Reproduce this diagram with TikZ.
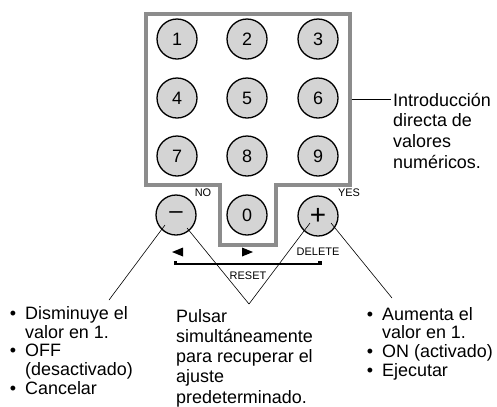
\documentclass[tikz,border=0pt]{standalone}
\usepackage{fontspec}
\setmainfont{Liberation Sans}
\definecolor{keygray}{gray}{0.83}
\definecolor{framegray}{gray}{0.55}
\begin{document}
\begin{tikzpicture}[x=1bp,y=-1bp,
  keybtn/.style={circle,draw=black,line width=1.3bp,fill=keygray,minimum size=40bp,inner sep=0pt,font=\fontsize{18}{18}\selectfont},
  smalllab/.style={font=\fontsize{11}{11}\selectfont,inner sep=0pt},
  bodytext/.style={align=left,inner sep=0pt,anchor=base west},
  leader/.style={line width=0.6bp},
  frame/.style={draw=framegray,line width=3.5bp},
  tri/.style={fill=black}]
\useasboundingbox (0,0) rectangle (497,406);
% frame
\draw[frame] (146,14) -- (350,14) -- (350,185) -- (276,185) -- (276,245) -- (220,245) -- (220,185) -- (146,185) -- cycle;
% keys
\node[keybtn] (k1) at (177,39) {1};
\node[keybtn] (k2) at (247,39) {2};
\node[keybtn] (k3) at (318,39) {3};
\node[keybtn] (k4) at (177,98) {4};
\node[keybtn] (k5) at (247,98) {5};
\node[keybtn] (k6) at (318,98) {6};
\node[keybtn] (k7) at (177,156) {7};
\node[keybtn] (k8) at (247,156) {8};
\node[keybtn] (k9) at (318,156) {9};
\node[keybtn] (k0) at (247,215) {0};
\node[keybtn,font=\fontsize{24}{24}\selectfont] (minus) at (176,215) {\raisebox{-0.12em}{–}};
\node[keybtn,font=\fontsize{28}{28}\selectfont] (plus) at (318,216) {+};
% small labels
\node[smalllab] (no) at (203,193) {NO};
\node[smalllab] (yes) at (349,193) {YES};
\node[smalllab] (del) at (318,252) {DELETE};
\node[smalllab] (reset) at (248,276) {RESET};
% triangles
\fill[tri] (172,252) -- (183,247.5) -- (183,256.5) -- cycle;
\fill[tri] (253,252) -- (242,247.5) -- (242,256.5) -- cycle;
% reset bracket
\coordinate (bl) at (175,264);
\coordinate (br) at (320,264);
\draw[line width=1.3bp] (bl) -- (br);
\fill (bl) ++(-1.5,0.6) rectangle ++(3.5,-4);
\fill (br) ++(-2,0.6) rectangle ++(3.5,-4);
% right annotation (anchor = baseline of last line)
\coordinate (introL) at (391,99);
\draw[leader,line width=0.9bp] (351.7,99) -- (introL);
\node[bodytext,font=\fontsize{18}{20.7}\selectfont] (intro) at (393,168) {Introducción\\directa de\\valores\\numéricos.};
% bottom texts
\node[bodytext,font=\fontsize{18}{18.6}\selectfont] (left) at (25,394) {\llap{•\hspace{9bp}}Disminuye el\\valor en 1.\\\llap{•\hspace{9bp}}OFF\\(desactivado)\\\llap{•\hspace{9bp}}Cancelar};
\node[bodytext,font=\fontsize{18}{20.3}\selectfont] (mid) at (176,403) {Pulsar\\simultáneamente\\para recuperar el\\ajuste\\predeterminado.};
\node[bodytext,font=\fontsize{18}{18.6}\selectfont] (right) at (382,376) {\llap{•\hspace{9bp}}Aumenta el\\valor en 1.\\\llap{•\hspace{9bp}}ON (activado)\\\llap{•\hspace{9bp}}Ejecutar};
% leader lines
\coordinate (lend) at (109,300);
\coordinate (apex) at (249,304);
\coordinate (rend) at (392,298);
\draw[leader] ([shift={(-11,10)}]minus.center) -- (lend);
\draw[leader] ([shift={(11,13)}]minus.center) -- (apex);
\draw[leader] ([shift={(-8,7)}]plus.center) -- (apex);
\draw[leader] ([shift={(13,7)}]plus.center) -- (rend);
\end{tikzpicture}
\end{document}
